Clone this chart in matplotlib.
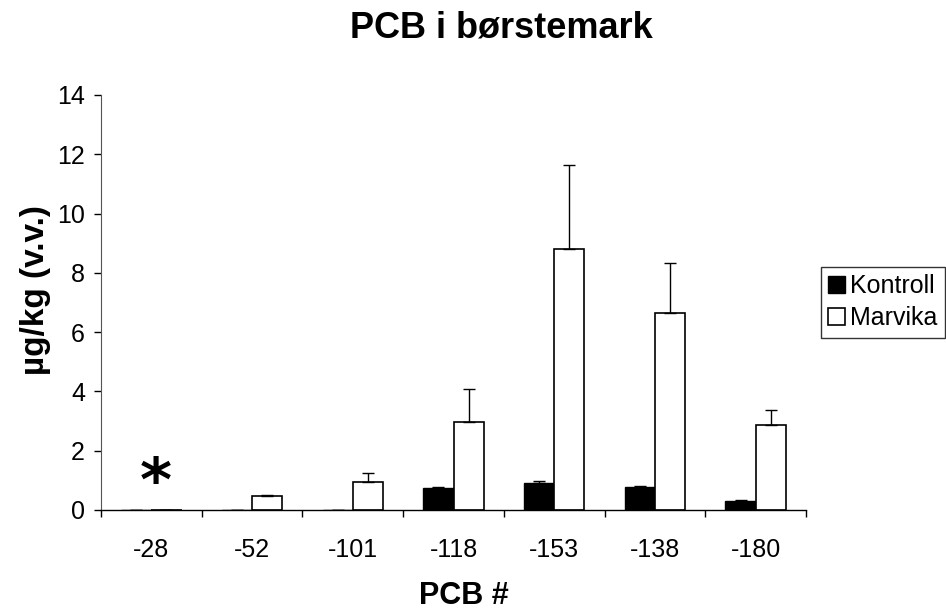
import matplotlib
matplotlib.use("Agg")
import matplotlib.pyplot as plt
import numpy as np

plt.rcParams['font.family'] = ['Liberation Sans', 'DejaVu Sans']

categories = ["-28", "-52", "-101", "-118", "-153", "-138", "-180"]
kontroll = [0.0, 0.0, 0.0, 0.73, 0.90, 0.77, 0.30]
kontroll_err = [0.01, 0.01, 0.01, 0.06, 0.09, 0.03, 0.04]
marvika = [0.0, 0.47, 0.93, 2.98, 8.82, 6.64, 2.86]
marvika_err = [0.01, 0.05, 0.31, 1.11, 2.83, 1.70, 0.50]

fig = plt.figure(figsize=(9.46, 6.12), dpi=100)
ax = fig.add_axes([0.1068, 0.1667, 0.852 - 0.1068, 0.8448 - 0.1667])

x = np.arange(len(categories))
w = 0.3
ax.bar(x - w/2, kontroll, w, color='black', edgecolor='black', linewidth=1, label='Kontroll', zorder=2)
ax.bar(x + w/2, marvika, w, color='white', edgecolor='black', linewidth=1.2, label='Marvika', zorder=2)
ax.errorbar(x - w/2, kontroll, yerr=[np.zeros(len(x)), kontroll_err], fmt='none',
            ecolor='black', elinewidth=1, capsize=4, capthick=1, zorder=3)
ax.errorbar(x + w/2, marvika, yerr=[np.zeros(len(x)), marvika_err], fmt='none',
            ecolor='black', elinewidth=1, capsize=4, capthick=1, zorder=3)

ax.set_xlim(-0.5, len(categories) - 0.5)
ax.set_ylim(0, 14)
ax.set_yticks(np.arange(0, 15, 2))
ax.set_xticks(np.arange(-0.5, len(categories), 1.0), minor=False)
ax.set_xticklabels([])
ax.set_xticks(x, minor=True)
ax.set_xticklabels(categories, minor=True)
ax.tick_params(axis='x', which='minor', length=0, labelsize=18, pad=20)
ax.tick_params(axis='x', which='major', length=5, direction='out', width=1)
ax.tick_params(axis='y', length=5, direction='out', width=1, labelsize=18, pad=6.5)

for s in ['top', 'right']:
    ax.spines[s].set_visible(False)
ax.spines['left'].set_color('#555555')
ax.spines['bottom'].set_linewidth(1)

ax.text(0.041, 0.85, '*', fontsize=44, fontweight='bold', ha='center', va='center',
        family='DejaVu Sans')

fig.text(0.038, 0.526, 'µg/kg (v.v.)', rotation=90, fontsize=24, fontweight='bold',
         ha='center', va='center')
fig.text(0.49, 0.0131, 'PCB #', fontsize=22, fontweight='bold', ha='center', va='baseline')
fig.text(0.5296, 0.938, 'PCB i børstemark', fontsize=26, fontweight='bold', ha='center', va='baseline')

leg = fig.legend(loc='upper left', bbox_to_anchor=(0.8676, 0.5642), fontsize=18,
                 frameon=True, fancybox=False, edgecolor='black', handlelength=0.68,
                 handleheight=0.68, handletextpad=0.2, borderpad=0.3, labelspacing=0.32,
                 borderaxespad=0)
leg.get_frame().set_linewidth(1)

fig.savefig('out.png', dpi=100)
